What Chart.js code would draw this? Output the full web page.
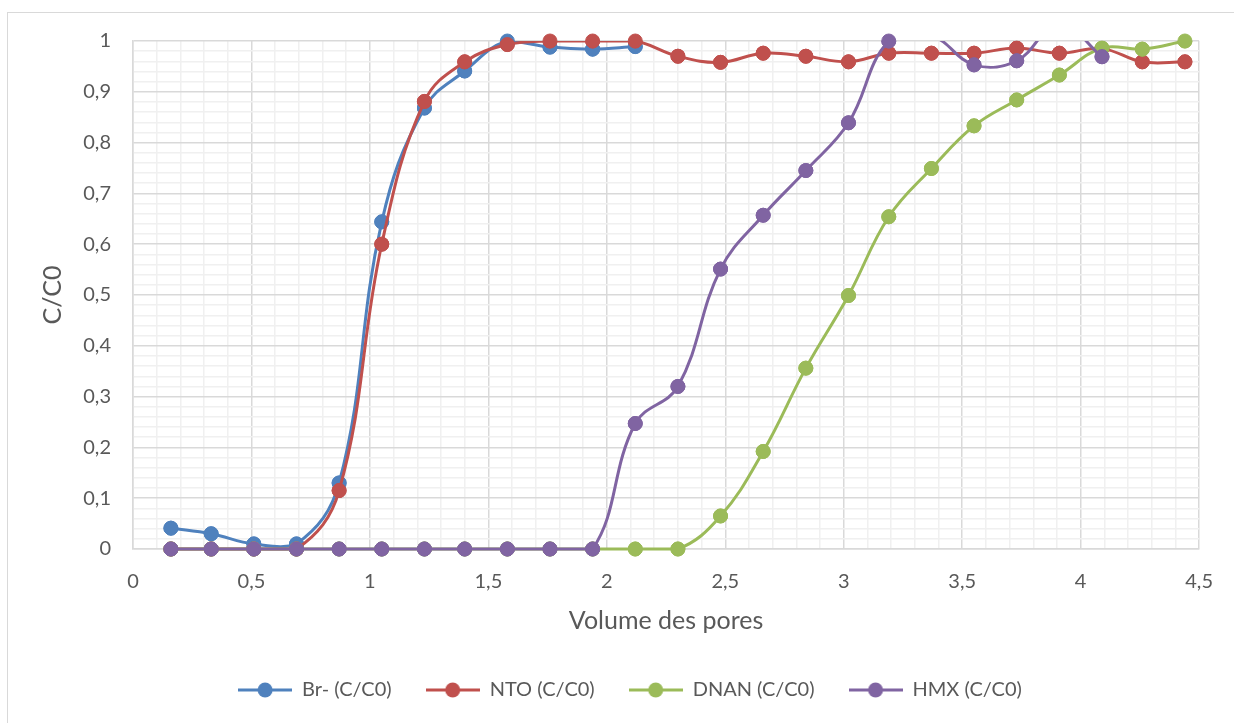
<!DOCTYPE html>
<html>
<head>
<meta charset="utf-8">
<script src="https://cdn.jsdelivr.net/npm/chart.js@4.4.1/dist/chart.umd.min.js"></script>
<style>
  html, body { margin: 0; padding: 0; background: #fff; overflow: hidden; }
  #frame { position: absolute; left: 7px; top: 12px; width: 1260px; height: 740px; border: 1px solid #d9d9d9; }
  #chart { position: absolute; left: 0; top: 0; }
</style>
</head>
<body>
<div id="frame"></div>
<canvas id="chart" width="1234" height="723"></canvas>
<script>
// --- Data ---
const xValues = [0.16, 0.33, 0.51, 0.69, 0.87, 1.05, 1.23, 1.40, 1.58, 1.76, 1.94, 2.12, 2.30,
                 2.48, 2.66, 2.84, 3.02, 3.19, 3.37, 3.55, 3.73, 3.91, 4.09, 4.26, 4.44];

const brValues   = [0.041, 0.030, 0.010, 0.010, 0.130, 0.644, 0.868, 0.941, 1.000, 0.988, 0.984, 0.989];
const ntoValues  = [0, 0, 0, 0, 0.115, 0.600, 0.881, 0.959, 0.993, 1.000, 1.000, 1.000, 0.970,
                    0.958, 0.976, 0.970, 0.959, 0.976, 0.976, 0.976, 0.986, 0.976, 0.985, 0.959, 0.959];
const dnanValues = [0, 0, 0, 0, 0, 0, 0, 0, 0, 0, 0, 0, 0,
                    0.065, 0.192, 0.356, 0.499, 0.654, 0.749, 0.833, 0.884, 0.933, 0.986, 0.984, 1.000];
const hmxValues  = [0, 0, 0, 0, 0, 0, 0, 0, 0, 0, 0, 0.247, 0.320,
                    0.551, 0.657, 0.745, 0.839, 1.000, 1.010, 0.953, 0.961, 1.035, 0.969];

const seriesNames  = ['Br- (C/C0)', 'NTO (C/C0)', 'DNAN (C/C0)', 'HMX (C/C0)'];
const seriesColors = ['#4f81bd', '#c0504d', '#9bbb59', '#8064a2'];

const xTitle = 'Volume des pores';
const yTitle = 'C/C0';

// --- Helpers ---
const textColor = '#595959';
const fontFamily = 'Lato, "Open Sans", sans-serif';

function toPoints(ys) {
    return ys.map((y, i) => ({ x: xValues[i], y: y }));
}

// petite icone "ligne + rond" pour la légende (style Excel)
function legendIcon(color) {
    const c = document.createElement('canvas');
    c.width = 54; c.height = 16;
    const g = c.getContext('2d');
    g.strokeStyle = color;
    g.lineWidth = 3;
    g.beginPath(); g.moveTo(0, 8); g.lineTo(54, 8); g.stroke();
    g.fillStyle = color;
    g.beginPath(); g.arc(27, 8, 7.5, 0, Math.PI * 2); g.fill();
    return c;
}
const legendIcons = seriesColors.map(legendIcon);

const allSeries = [brValues, ntoValues, dnanValues, hmxValues];
const datasets = allSeries.map((vals, i) => ({
    label: seriesNames[i],
    data: toPoints(vals),
    borderColor: seriesColors[i],
    backgroundColor: seriesColors[i],
    borderWidth: 3,
    tension: 0.4,
    pointRadius: ctx => (ctx.raw && ctx.raw.y > 1 ? 0 : 7),
    pointBorderWidth: 1,
    pointBorderColor: seriesColors[i],
    pointBackgroundColor: seriesColors[i],
    order: allSeries.length - i,   // la dernière série passe au-dessus
    clip: { left: 10, right: 10, bottom: 10, top: 0 }
}));

// redessine les marqueurs sans le clip (un point à 1 dépasse du cadre dans Excel)
const markerPlugin = {
    id: 'markerPlugin',
    afterDatasetDraw(chart, args) {
        args.meta.data.forEach(p => p.draw(chart.ctx, chart.chartArea));
    }
};

const isMajorX = v => Math.round(v * 10) % 5 === 0;
const isMajorY = v => Math.round(v * 100) % 10 === 0;

new Chart(document.getElementById('chart'), {
    type: 'line',
    data: { datasets: datasets },
    plugins: [markerPlugin],
    options: {
        responsive: false,
        animation: false,
        devicePixelRatio: 1,
        layout: { padding: { left: 26, right: 0, top: 41, bottom: 13 } },
        plugins: {
            tooltip: { enabled: false },
            legend: {
                position: 'bottom',
                labels: {
                    usePointStyle: true,
                    pointStyleWidth: 54,
                    padding: 34,
                    color: textColor,
                    font: { family: fontFamily, size: 20 },
                    sort: (a, b) => a.datasetIndex - b.datasetIndex,
                    generateLabels: chart => {
                        const items = Chart.defaults.plugins.legend.labels.generateLabels(chart);
                        items.forEach(it => { it.pointStyle = legendIcons[it.datasetIndex]; });
                        return items;
                    }
                }
            }
        },
        scales: {
            x: {
                type: 'linear',
                min: 0,
                max: 4.5,
                afterFit: s => { s.height = 97; },
                ticks: {
                    stepSize: 0.1,
                    autoSkip: false,
                    maxRotation: 0,
                    padding: 21,
                    color: textColor,
                    font: { family: fontFamily, size: 20 },
                    callback: v => isMajorX(v) ? String(Math.round(v * 10) / 10).replace('.', ',') : ''
                },
                grid: {
                    drawTicks: false,
                    color: ctx => isMajorX(ctx.tick.value) ? '#d9d9d9' : '#f0f0f0',
                    lineWidth: 1.5
                },
                border: { color: '#d9d9d9', width: 1.5 },
                title: {
                    display: true,
                    text: xTitle,
                    color: textColor,
                    font: { family: fontFamily, size: 25 },
                    padding: { top: 0, bottom: 10 }
                }
            },
            y: {
                type: 'linear',
                min: 0,
                max: 1,
                afterFit: s => { s.width = 107; },
                ticks: {
                    stepSize: 0.02,
                    autoSkip: false,
                    padding: 22,
                    color: textColor,
                    font: { family: fontFamily, size: 20 },
                    callback: v => isMajorY(v) ? String(Math.round(v * 10) / 10).replace('.', ',') : ''
                },
                grid: {
                    drawTicks: false,
                    color: ctx => isMajorY(ctx.tick.value) ? '#d9d9d9' : '#f0f0f0',
                    lineWidth: 1.5
                },
                border: { color: '#d9d9d9', width: 1.5 },
                title: {
                    display: true,
                    text: yTitle,
                    color: textColor,
                    font: { family: fontFamily, size: 25 },
                    padding: { top: 12, bottom: 0 }
                }
            },
            // axe fantôme à droite pour garder la marge du cadre
            yRight: {
                type: 'linear',
                position: 'right',
                afterFit: s => { s.width = 32; },
                ticks: { display: false },
                grid: { display: false },
                border: { display: false }
            }
        }
    }
});
</script>
</body>
</html>
